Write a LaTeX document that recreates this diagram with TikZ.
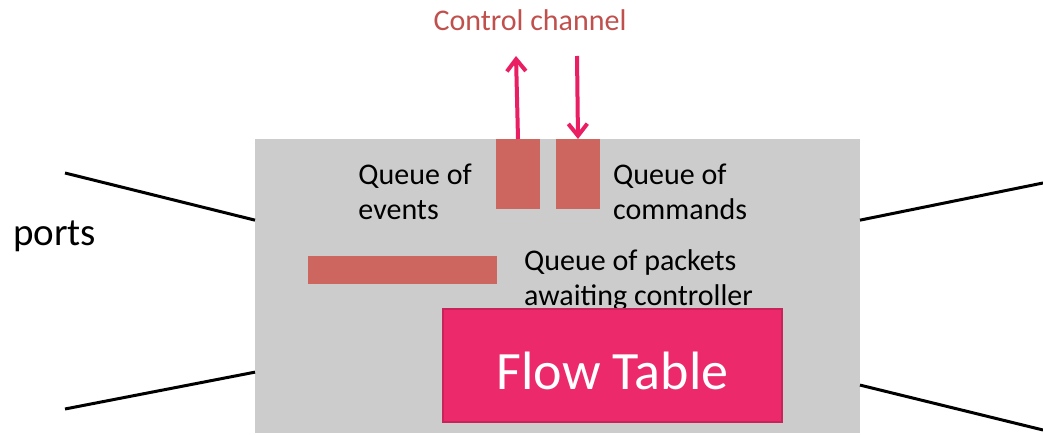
\documentclass[tikz,border=0pt]{standalone}
\usepackage{fontspec}
\setmainfont{Carlito}
\usetikzlibrary{arrows.meta, positioning, calc}
\definecolor{switchgray}{RGB}{204,204,204}
\definecolor{queuered}{RGB}{205,102,94}
\definecolor{flowpink}{RGB}{236,41,107}
\definecolor{flowborder}{RGB}{200,35,90}
\definecolor{chanpink}{RGB}{233,30,99}
\definecolor{chantext}{RGB}{192,80,77}
\tikzset{
  queue/.style={rectangle, fill=queuered, inner sep=0pt, outer sep=0pt},
  qtext/.style={align=left, inner sep=0pt, font=\fontsize{30}{35}\selectfont},
  flowbox/.style={rectangle, fill=flowpink, draw=flowborder, line width=2pt,
    minimum width=339pt, minimum height=113pt, inner sep=0pt, outer sep=0pt,
    text height=48pt, text depth=0pt,
    text=white, font=\fontsize{54}{60}\selectfont},
  portline/.style={line width=3pt, black},
  chan/.style={-{Straight Barb[length=12pt, width=19pt]}, line width=4pt, color=chanpink},
}
\begin{document}
\begin{tikzpicture}[x=1pt, y=-1pt]
  \useasboundingbox (0,0) rectangle (1043,435);
  \node[rectangle, fill=switchgray, minimum width=605pt, minimum height=294pt,
        inner sep=0pt, outer sep=0pt] (switch) at (557.5,286) {};
  \node[queue, minimum width=44pt, minimum height=70pt] (evq) at (518,174) {};
  \node[queue, minimum width=44pt, minimum height=70pt] (cmdq) at (578,174) {};
  \node[queue, minimum width=189pt, minimum height=28pt] (pktq) at (402.5,270) {};
  \node[qtext, left=24pt of evq, yshift=-18pt] (evtext) {Queue of\\events};
  \node[qtext, right=13pt of cmdq, yshift=-18pt] (cmdtext) {Queue of\\commands};
  \node[qtext, right=27pt of pktq, yshift=-10pt] (pkttext) {Queue of packets\\awaiting controller};
  \node[flowbox] (flow) at (612.5,365.5) {Flow Table};
  \node[text=chantext, font=\fontsize{30}{35}\selectfont] (ctrl) at (530,20) {Control channel};
  \coordinate (evtop) at (516,56);
  \coordinate (cmdtop) at (577,56);
  \draw[chan] (evq.north) -- (evtop);
  \draw[chan] (cmdtop) -- (cmdq.north);
  \node[anchor=base, font=\fontsize{39}{44}\selectfont] (ports) at (54.5,246) {ports};
  \coordinate (pl1) at (65,173);
  \coordinate (pl2) at (65,409);
  \coordinate (pr1) at (1043,183);
  \coordinate (pr2) at (1043,430);
  \draw[portline] (pl1) -- ($(switch.north west)!0.276!(switch.south west)$);
  \draw[portline] (pl2) -- ($(switch.north west)!0.793!(switch.south west)$);
  \draw[portline] (pr1) -- ($(switch.north east)!0.276!(switch.south east)$);
  \draw[portline] (pr2) -- ($(switch.north east)!0.837!(switch.south east)$);
\end{tikzpicture}
\end{document}
